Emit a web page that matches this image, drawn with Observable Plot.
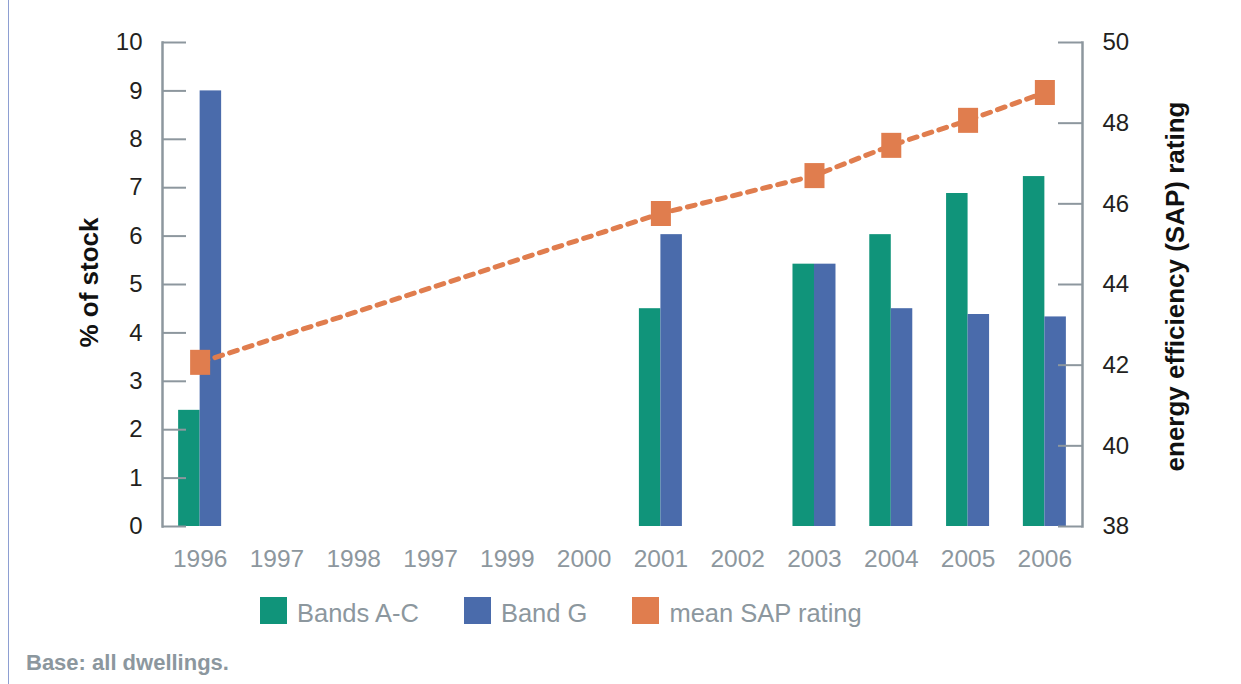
<!DOCTYPE html>
<html>
<head>
<meta charset="utf-8">
<script src="https://cdn.jsdelivr.net/npm/d3@7"></script>
<script src="https://cdn.jsdelivr.net/npm/@observablehq/plot@0.6"></script>
<style>
  body { margin: 0; background: #fff; font-family: "Liberation Sans", Arial, sans-serif; }
  #wrap { position: relative; width: 1241px; height: 684px; overflow: hidden; }
  #border { position: absolute; left: 8px; top: 0; width: 1px; height: 684px; background: #8e9fd2; }
  #chart { position: absolute; left: 0; top: 0; }
  #legend { position: absolute; left: 260px; top: 596px; display: flex; align-items: center; font-size: 25.5px; color: #8c979e; }
  .item { display: flex; align-items: center; margin-right: 45px; }
  .sw { width: 27px; height: 27px; margin-right: 10px; }
  .lt { position: relative; top: 3px; }
  #caption { position: absolute; left: 26px; top: 650px; font-weight: bold; font-size: 22px; color: #8c979e; }
</style>
</head>
<body>
<div id="wrap">
  <div id="border"></div>
  <div id="chart"></div>
  <div id="legend"></div>
  <div id="caption">Base: all dwellings.</div>
</div>
<script>
// ---- data ----
const yearLabels = ["1996","1997","1998","1997","1999","2000","2001","2002","2003","2004","2005","2006"];
const bandsAC   = [2.4, null, null, null, null, null, 4.5, null, 5.42, 6.03, 6.88, 7.23];
const bandG     = [9.0, null, null, null, null, null, 6.03, null, 5.42, 4.5, 4.38, 4.33];
const meanSAP   = [42.07, null, null, null, null, null, 45.76, null, 46.7, 47.45, 48.07, 48.76];
const leftTicks  = [0, 1, 2, 3, 4, 5, 6, 7, 8, 9, 10];
const rightTicks = [38, 40, 42, 44, 46, 48, 50];
const seriesNames = ["Bands A-C", "Band G", "mean SAP rating"];
const colors = ["#10947a", "#4a6bab", "#e07d4e"];

// ---- helpers ----
const keys = yearLabels.map((_, i) => i);
const rMin = 38, rMax = 50, lMax = 10;
const toLeft = v => (v - rMin) / (rMax - rMin) * lMax;
const fromLeft = v => Math.round(v / lMax * (rMax - rMin) + rMin);
const rows = arr => arr.map((v, i) => ({k: i, v})).filter(d => d.v != null);

const acRows = rows(bandsAC), gRows = rows(bandG), sapRows = rows(meanSAP);

const axisGrey = "#8d979e";
const rectSymbol = {
  draw(ctx, size) {
    const s = Math.sqrt(size), w = s / 2, h = s * 1.25 / 2;
    ctx.moveTo(-w, -h); ctx.lineTo(w, -h); ctx.lineTo(w, h); ctx.lineTo(-w, h); ctx.closePath();
  }
};

const plot = Plot.plot({
  width: 1241,
  height: 585,
  marginLeft: 162,
  marginRight: 159,
  marginTop: 42,
  marginBottom: 59,
  style: {fontFamily: "Liberation Sans, Arial, sans-serif", fontSize: "24px", background: "transparent", overflow: "visible"},
  x: {type: "band", domain: keys, paddingInner: 0.72, paddingOuter: 0.35, round: false},
  y: {domain: [0, lMax]},
  marks: [
    Plot.barY(acRows, {x: "k", y: "v", fill: colors[0], dx: -10.75}),
    Plot.barY(gRows, {x: "k", y: "v", fill: colors[1], dx: 10.75}),
    Plot.ruleY(leftTicks, {y: d => d, stroke: axisGrey, strokeWidth: 2, insetRight: 896}),
    Plot.ruleY(rightTicks, {y: d => toLeft(d), stroke: axisGrey, strokeWidth: 2, insetLeft: 896}),
    Plot.frame({anchor: "left", stroke: axisGrey, strokeWidth: 2.5}),
    Plot.frame({anchor: "right", stroke: axisGrey, strokeWidth: 2.5}),
    Plot.axisY(leftTicks, {anchor: "left", tickSize: 0, tickPadding: 20, label: null, fill: "#231f20", fontSize: 24}),
    Plot.axisY(rightTicks.map(toLeft), {anchor: "right", tickSize: 0, tickPadding: 20, label: null, fill: "#231f20", fontSize: 24, tickFormat: d => String(fromLeft(d))}),
    Plot.axisX({anchor: "bottom", tickSize: 0, tickPadding: 23, label: null, fill: axisGrey, fontSize: 24.5, tickFormat: i => yearLabels[i]}),
    Plot.line(sapRows, {x: "k", y: d => toLeft(d.v), stroke: colors[2], strokeWidth: 5, strokeDasharray: "8,7.5"}),
    Plot.dot(sapRows, {x: "k", y: d => toLeft(d.v), symbol: rectSymbol, r: 11.3, fill: colors[2], stroke: "none"}),
    Plot.text(["% of stock"], {frameAnchor: "left", textAnchor: "middle", dx: -73, dy: -2, rotate: -90, fontWeight: "bold", fontSize: 26, fill: "#111"}),
    Plot.text(["energy efficiency (SAP) rating"], {frameAnchor: "right", textAnchor: "middle", dx: 93, dy: 2, rotate: -90, fontWeight: "bold", fontSize: 26, fill: "#111"})
  ]
});
document.getElementById("chart").appendChild(plot);

const legend = document.getElementById("legend");
seriesNames.forEach((name, i) => {
  const item = document.createElement("div");
  item.className = "item";
  const sw = document.createElement("div");
  sw.className = "sw";
  sw.style.background = colors[i];
  const t = document.createElement("span");
  t.className = "lt";
  t.textContent = name;
  item.appendChild(sw); item.appendChild(t);
  legend.appendChild(item);
});
</script>
</body>
</html>
